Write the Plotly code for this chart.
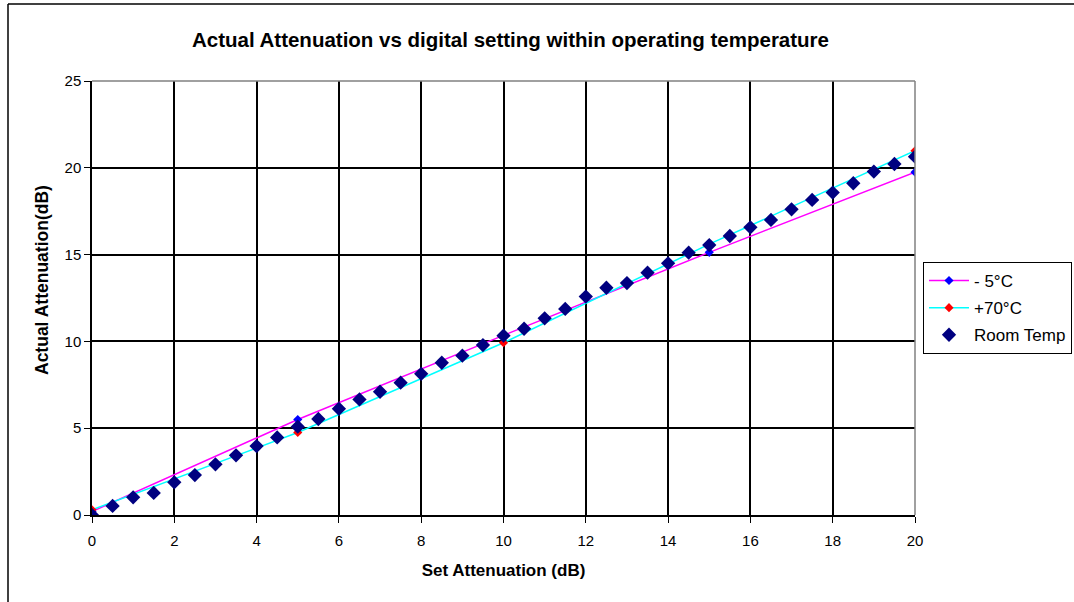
import plotly.graph_objects as go

# Data
set_coarse = [0, 5, 10, 15, 20]
minus5 = [0.2, 5.5, 10.35, 15.13, 19.75]
plus70 = [0.3, 4.75, 9.92, 15.6, 20.98]

set_fine = [0, 0.5, 1, 1.5, 2, 2.5, 3, 3.5, 4, 4.5, 5, 5.5, 6, 6.5, 7, 7.5, 8, 8.5,
            9, 9.5, 10, 10.5, 11, 11.5, 12, 12.5, 13, 13.5, 14, 14.5, 15, 15.5, 16,
            16.5, 17, 17.5, 18, 18.5, 19, 19.5, 20]
room = [0.0, 0.52, 1.02, 1.27, 1.88, 2.30, 2.92, 3.44, 3.97, 4.47, 5.09, 5.53, 6.12,
        6.66, 7.10, 7.62, 8.13, 8.77, 9.18, 9.79, 10.33, 10.73, 11.33, 11.87, 12.58,
        13.09, 13.36, 13.96, 14.50, 15.11, 15.55, 16.07, 16.57, 17.0, 17.61, 18.15,
        18.57, 19.11, 19.78, 20.22, 20.64]

fig = go.Figure()
fig.add_trace(go.Scatter(x=set_coarse, y=minus5, name="- 5°C", mode="lines+markers",
                         legendgroup="a",
                         line=dict(color="#FF00FF", width=1.5),
                         marker=dict(symbol="diamond", color="#0000FF", size=7)))
fig.add_trace(go.Scatter(x=set_coarse, y=plus70, name="+70°C", mode="lines+markers",
                         legendgroup="b",
                         line=dict(color="#00FFFF", width=1.5),
                         marker=dict(symbol="diamond", color="#FF0000", size=7)))
fig.add_trace(go.Scatter(x=set_fine, y=room, name="Room Temp", mode="markers",
                         legendgroup="c",
                         marker=dict(symbol="diamond", color="#000080", size=11)))

font = "Liberation Sans, Arial, sans-serif"
PL, PT, PW, PH = 92, 81, 823, 434


def px_x(p):
    return (p - PL) / PW


def px_y(p):
    return (PT + PH - p) / PH


frame = dict(color="black", width=1.5)
fig.update_layout(
    width=1074, height=602,
    margin=dict(l=PL, r=1074 - PL - PW, t=PT, b=602 - PT - PH, autoexpand=False),
    paper_bgcolor="white", plot_bgcolor="white",
    font=dict(family=font, size=15, color="black"),
    title=dict(text="<b>Actual Attenuation vs digital setting within operating temperature</b>",
               x=0.4753, xanchor="center", y=1 - 40 / 602, yanchor="middle",
               font=dict(size=20.5, family=font, color="black")),
    showlegend=True,
    legend=dict(x=px_x(923), y=px_y(262), xanchor="left", yanchor="top",
                bordercolor="black", borderwidth=1, bgcolor="white",
                itemwidth=40, entrywidth=130,
                font=dict(size=17, family=font), tracegroupgap=2),
    annotations=[dict(text="<b>Actual Attenuation(dB)</b>", xref="paper", yref="paper",
                      x=px_x(42), y=px_y(280), xanchor="center", yanchor="middle",
                      textangle=-90, showarrow=False,
                      font=dict(size=17.5, family=font, color="black"))],
    shapes=[dict(type="line", xref="paper", yref="paper", x0=px_x(8), x1=px_x(8),
                 y0=px_y(4), y1=px_y(620), line=frame),
            dict(type="line", xref="paper", yref="paper", x0=px_x(8), x1=px_x(1100),
                 y0=px_y(4), y1=px_y(4), line=frame),
            dict(type="line", xref="paper", yref="paper", x0=0, x1=1, y0=1, y1=1,
                 line=dict(color="#808080", width=1.5)),
            dict(type="line", xref="paper", yref="paper", x0=1, x1=1, y0=0, y1=1,
                 line=dict(color="#808080", width=1.5))],
)
fig.update_xaxes(range=[0, 20], dtick=2, tick0=0, showgrid=True, gridcolor="black",
                 gridwidth=1.5, showline=True, linecolor="black", linewidth=1.5,
                 ticks="outside", ticklen=6, tickcolor="black", zeroline=False,
                 tickfont=dict(size=15), ticklabelstandoff=5,
                 title=dict(text="<b>Set Attenuation (dB)</b>", font=dict(size=17), standoff=16))
fig.update_yaxes(range=[0, 25], dtick=5, tick0=0, showgrid=True, gridcolor="black",
                 gridwidth=1.5, showline=True, linecolor="black", linewidth=1.5,
                 ticks="outside", ticklen=6, tickcolor="black", zeroline=False,
                 tickfont=dict(size=15))

fig.write_html("out.html", config={"displayModeBar": False},
               post_script="document.body.style.margin='0px';")
